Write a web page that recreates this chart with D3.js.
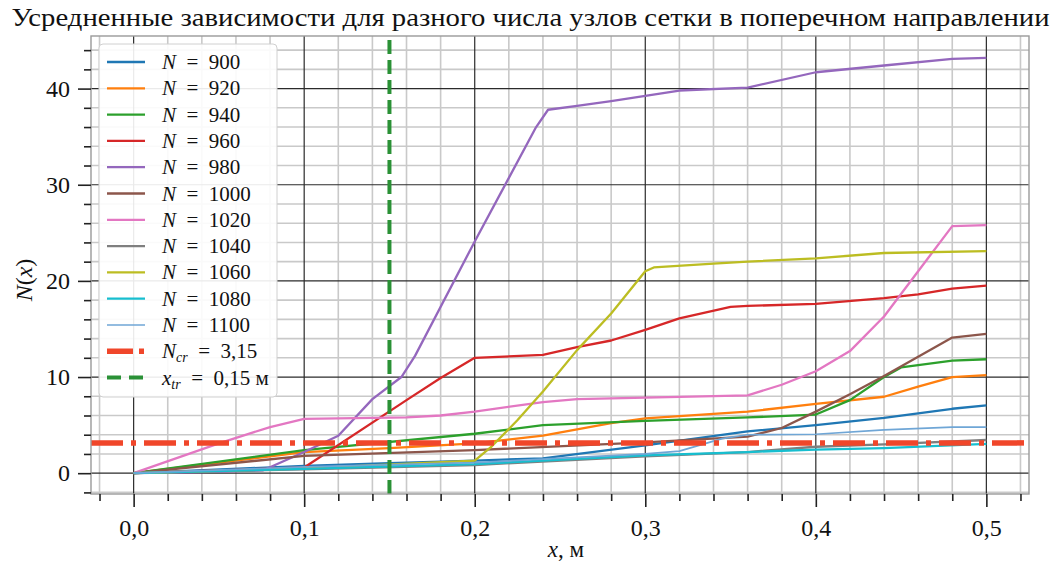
<!DOCTYPE html>
<html>
<head>
<meta charset="utf-8">
<script src="https://cdn.jsdelivr.net/npm/d3@7"></script>
<style>
  body { margin: 0; background: #fff; }
  svg text { font-family: "Liberation Serif", "DejaVu Serif", serif; fill: #111; }
</style>
</head>
<body>
<div class="chart"></div>
<script>
// data: [x, N(x)] per grid size
var n900  = [[0,0],[0.1,0.75],[0.15,1.05],[0.2,1.3],[0.24,1.55],[0.3,2.9],[0.36,4.35],[0.4,5.0],[0.44,5.75],[0.48,6.7],[0.5,7.05]];
var n920  = [[0,0],[0.1,2.2],[0.15,2.6],[0.2,3.1],[0.24,3.9],[0.28,5.2],[0.3,5.7],[0.36,6.4],[0.4,7.2],[0.44,7.95],[0.46,9.0],[0.48,10.0],[0.5,10.2]];
var n940  = [[0,0],[0.1,2.4],[0.2,4.1],[0.24,5.0],[0.3,5.45],[0.36,5.8],[0.4,6.1],[0.42,7.6],[0.44,10.0],[0.45,11.0],[0.48,11.7],[0.5,11.85]];
var n960  = [[0,0],[0.1,0.6],[0.16,7.6],[0.18,9.9],[0.2,12.0],[0.24,12.3],[0.26,13.1],[0.28,13.8],[0.3,14.9],[0.32,16.1],[0.35,17.3],[0.36,17.4],[0.4,17.6],[0.44,18.2],[0.46,18.6],[0.48,19.2],[0.5,19.5]];
var n980  = [[0,0],[0.04,0.1],[0.076,0.3],[0.1,2.2],[0.12,3.9],[0.14,7.7],[0.157,10.0],[0.165,12.2],[0.2,24.1],[0.236,36.0],[0.243,37.8],[0.26,38.2],[0.28,38.7],[0.3,39.25],[0.32,39.8],[0.36,40.1],[0.4,41.7],[0.44,42.4],[0.48,43.1],[0.5,43.2]];
var n1000 = [[0,0],[0.1,1.8],[0.2,2.4],[0.3,3.2],[0.36,3.8],[0.38,4.7],[0.4,6.4],[0.42,8.2],[0.44,10.1],[0.46,12.1],[0.48,14.1],[0.5,14.5]];
var n1020 = [[0,0],[0.05,3.1],[0.08,4.8],[0.1,5.65],[0.16,5.8],[0.18,6.0],[0.2,6.4],[0.24,7.4],[0.26,7.7],[0.3,7.85],[0.36,8.1],[0.38,9.2],[0.4,10.6],[0.42,12.7],[0.44,16.3],[0.46,21.0],[0.48,25.7],[0.5,25.8]];
var n1040 = [[0,0],[0.1,0.4],[0.2,0.85],[0.3,1.75],[0.36,2.2],[0.4,2.75],[0.44,3.0],[0.5,3.45]];
var n1060 = [[0,0],[0.1,0.5],[0.2,1.3],[0.21,2.8],[0.225,5.5],[0.24,8.5],[0.26,12.8],[0.28,16.6],[0.3,21.0],[0.305,21.4],[0.34,21.8],[0.36,22.0],[0.4,22.35],[0.44,22.9],[0.5,23.1]];
var n1080 = [[0,0],[0.1,0.45],[0.2,0.95],[0.3,1.85],[0.36,2.2],[0.4,2.45],[0.44,2.6],[0.5,3.05]];
var n1100 = [[0,0],[0.1,0.65],[0.2,1.1],[0.3,2.0],[0.32,2.3],[0.345,3.6],[0.36,4.0],[0.4,4.05],[0.44,4.5],[0.48,4.8],[0.5,4.8]];

var gridSizes = [900, 920, 940, 960, 980, 1000, 1020, 1040, 1060, 1080, 1100];
var seriesData = [n900, n920, n940, n960, n980, n1000, n1020, n1040, n1060, n1080, n1100];
var colors = ["#1f77b4", "#ff7f0e", "#2ca02c", "#d62728", "#9467bd", "#8c564b", "#e377c2", "#7f7f7f", "#bcbd22", "#17becf", "#6fa6d6"];

var nCritical = 3.15;
var xTransition = 0.15;

var xTicks = [0, 0.1, 0.2, 0.3, 0.4, 0.5];
var xTickLabels = ["0,0", "0,1", "0,2", "0,3", "0,4", "0,5"];
var yTicks = [0, 10, 20, 30, 40];

var svgWidth = 1061;
var svgHeight = 565;
var margin = { top: 36, right: 32, bottom: 71, left: 91 };

var svg = d3.select(".chart")
  .append("svg")
  .attr("width", svgWidth)
  .attr("height", svgHeight);

var x = d3.scaleLinear().domain([-0.025, 0.525]).range([margin.left, svgWidth - margin.right]);
var y = d3.scaleLinear().domain([-2.165, 45.47]).range([svgHeight - margin.bottom, margin.top]);

var minorX = d3.range(-0.02, 0.5201, 0.02).filter(d => Math.abs(d * 10 - Math.round(d * 10)) > 1e-6);
var minorY = d3.range(-2, 45, 2).filter(d => d % 10 !== 0);

// title
svg.append("text")
  .attr("x", svgWidth / 2)
  .attr("y", 26)
  .attr("text-anchor", "middle")
  .attr("font-size", 26)
  .attr("textLength", 1038)
  .attr("lengthAdjust", "spacingAndGlyphs")
  .text("Усредненные зависимости для разного числа узлов сетки в поперечном направлении");

var plot = svg.append("g");
plot.append("defs").append("clipPath").attr("id", "clip")
  .append("rect")
  .attr("x", x.range()[0]).attr("y", y.range()[1])
  .attr("width", x.range()[1] - x.range()[0])
  .attr("height", y.range()[0] - y.range()[1]);

// grid: minor first, major on top
var grid = plot.append("g");
grid.selectAll(".mx").data(minorX).enter().append("line")
  .attr("x1", d => x(d)).attr("x2", d => x(d))
  .attr("y1", y.range()[0]).attr("y2", y.range()[1])
  .attr("stroke", "#c9c9c9").attr("stroke-width", 1.6);
grid.selectAll(".my").data(minorY).enter().append("line")
  .attr("x1", x.range()[0]).attr("x2", x.range()[1])
  .attr("y1", d => y(d)).attr("y2", d => y(d))
  .attr("stroke", "#c9c9c9").attr("stroke-width", 1.6);
grid.selectAll(".Mx").data(xTicks).enter().append("line")
  .attr("x1", d => x(d)).attr("x2", d => x(d))
  .attr("y1", y.range()[0]).attr("y2", y.range()[1])
  .attr("stroke", "#2b2b2b").attr("stroke-width", 1.2);
grid.selectAll(".My").data(yTicks).enter().append("line")
  .attr("x1", x.range()[0]).attr("x2", x.range()[1])
  .attr("y1", d => y(d)).attr("y2", d => y(d))
  .attr("stroke", "#2b2b2b").attr("stroke-width", 1.2);

// series
var line = d3.line().x(d => x(d[0])).y(d => y(d[1]));
var lines = plot.append("g").attr("clip-path", "url(#clip)");
seriesData.forEach(function(s, i) {
  lines.append("path")
    .datum(s)
    .attr("d", line)
    .attr("fill", "none")
    .attr("stroke", colors[i])
    .attr("stroke-width", i === 10 ? 1.7 : 2.3)
    .attr("stroke-linejoin", "round");
});

// reference lines
lines.append("line")
  .attr("x1", x.range()[0]).attr("x2", x.range()[1])
  .attr("y1", y(nCritical)).attr("y2", y(nCritical))
  .attr("stroke", "#f0462a").attr("stroke-width", 5.5)
  .attr("stroke-dasharray", "32,8,5,8");
lines.append("line")
  .attr("x1", x(xTransition)).attr("x2", x(xTransition))
  .attr("y1", y.range()[0]).attr("y2", y.range()[1])
  .attr("stroke", "#2a9136").attr("stroke-width", 4)
  .attr("stroke-dasharray", "14,6");

// frame
plot.append("rect")
  .attr("x", x.range()[0]).attr("y", y.range()[1])
  .attr("width", x.range()[1] - x.range()[0])
  .attr("height", y.range()[0] - y.range()[1])
  .attr("fill", "none").attr("stroke", "#9a9a9a").attr("stroke-width", 1.4);

// axes
var xAxis = svg.append("g").attr("transform", `translate(0, ${y.range()[0]})`);
xAxis.call(d3.axisBottom(x).tickValues(xTicks).tickSize(13).tickPadding(12)
  .tickFormat((d, i) => xTickLabels[i]));
var xMinor = svg.append("g").attr("transform", `translate(0, ${y.range()[0]})`);
xMinor.call(d3.axisBottom(x).tickValues(minorX).tickSize(7).tickFormat(""));

var yAxis = svg.append("g").attr("transform", `translate(${x.range()[0]}, 0)`);
yAxis.call(d3.axisLeft(y).tickValues(yTicks).tickSize(13).tickPadding(8));
var yMinor = svg.append("g").attr("transform", `translate(${x.range()[0]}, 0)`);
yMinor.call(d3.axisLeft(y).tickValues(minorY).tickSize(7).tickFormat(""));

svg.selectAll(".domain").remove();
svg.selectAll(".tick line").attr("stroke", "#222").attr("stroke-width", 1.6);
svg.selectAll(".tick text").attr("font-size", 24).attr("font-family", "Liberation Serif").attr("fill", "#111");

// axis labels
var xl = svg.append("text").attr("x", 566).attr("y", 557).attr("text-anchor", "middle").attr("font-size", 23);
xl.append("tspan").attr("font-style", "italic").text("x");
xl.append("tspan").text(", м");

var yl = svg.append("text")
  .attr("transform", "translate(32, 280) rotate(-90)")
  .attr("text-anchor", "middle").attr("font-size", 24);
yl.append("tspan").attr("font-style", "italic").text("N");
yl.append("tspan").text("(");
yl.append("tspan").attr("font-style", "italic").text("x");
yl.append("tspan").text(")");

// legend
var legend = svg.append("g");
legend.append("rect")
  .attr("x", 99).attr("y", 44).attr("width", 178).attr("height", 353)
  .attr("rx", 4)
  .attr("fill", "#fff").attr("fill-opacity", 0.9)
  .attr("stroke", "#d0d0d0").attr("stroke-width", 1);

var eq = "\u2002=\u2002";
var rowY = d => 62 + d * 26.3;
gridSizes.forEach(function(n, i) {
  legend.append("line")
    .attr("x1", 107).attr("x2", 145)
    .attr("y1", rowY(i)).attr("y2", rowY(i))
    .attr("stroke", colors[i]).attr("stroke-width", i === 10 ? 1.7 : 2.3);
  var t = legend.append("text").attr("x", 162).attr("y", rowY(i) + 7).attr("font-size", 21);
  t.append("tspan").attr("font-style", "italic").text("N");
  t.append("tspan").text(eq + n);
});

legend.append("line")
  .attr("x1", 107).attr("x2", 145)
  .attr("y1", rowY(11)).attr("y2", rowY(11))
  .attr("stroke", "#f0462a").attr("stroke-width", 5.5)
  .attr("stroke-dasharray", "26,6,5,6");
var tcr = legend.append("text").attr("x", 162).attr("y", rowY(11) + 7).attr("font-size", 21);
tcr.append("tspan").attr("font-style", "italic").text("N");
tcr.append("tspan").attr("font-style", "italic").attr("font-size", 14).attr("dy", 4).text("cr");
tcr.append("tspan").attr("dy", -4).text(eq + "3,15");

legend.append("line")
  .attr("x1", 107).attr("x2", 145)
  .attr("y1", rowY(12)).attr("y2", rowY(12))
  .attr("stroke", "#2a9136").attr("stroke-width", 4)
  .attr("stroke-dasharray", "14,8");
var ttr = legend.append("text").attr("x", 162).attr("y", rowY(12) + 7).attr("font-size", 21);
ttr.append("tspan").attr("font-style", "italic").text("x");
ttr.append("tspan").attr("font-style", "italic").attr("font-size", 14).attr("dy", 4).text("tr");
ttr.append("tspan").attr("dy", -4).text(eq + "0,15 м");
</script>
</body>
</html>
